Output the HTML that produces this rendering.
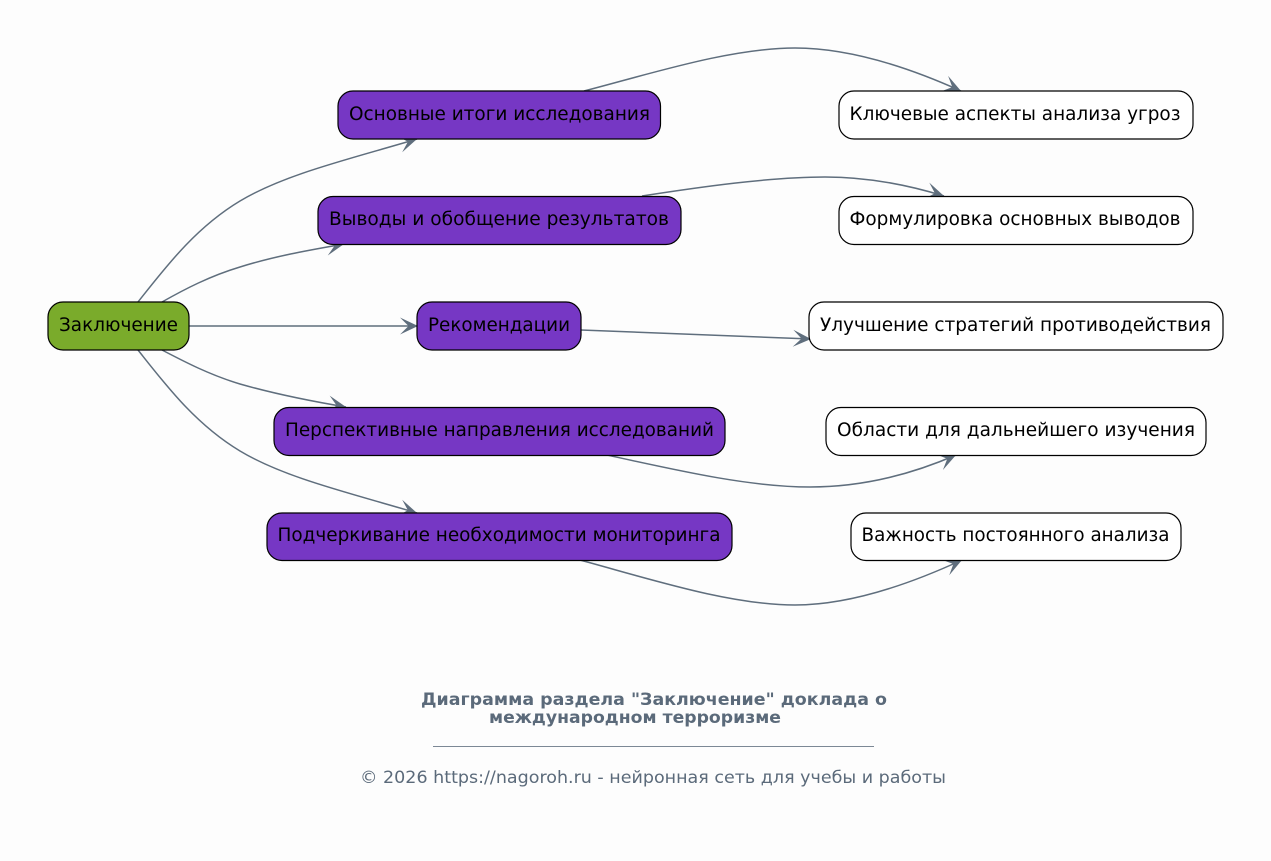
<!DOCTYPE html>
<html lang="ru"><head><meta charset="utf-8"><title>Диаграмма</title>
<style>html,body{margin:0;padding:0;background:#fdfdfd}svg{display:block}
text{font-family:"DejaVu Sans","Liberation Sans",sans-serif}
.n{font-size:18.67px;fill:#000;text-anchor:middle}
.e{fill:none;stroke:#5f6e7d;stroke-width:1.5;marker-end:url(#a)}
.b{stroke:#000;stroke-width:1.2}
</style></head><body>
<svg width="1271" height="861" viewBox="0 0 1271 861" xmlns="http://www.w3.org/2000/svg">
<defs><marker id="a" markerUnits="userSpaceOnUse" markerWidth="20" markerHeight="20" viewBox="-1 -10 20 20" refX="18" refY="0" orient="auto"><path d="M0,-8.500L18,0L0,8.500L8.500,0Z" fill="#5f6e7d"/></marker></defs>
<rect width="1271" height="861" fill="#fdfdfd"/>
<path class="e" d="M138,302C165,268 195,228 240,201C285,174 350,159 417,139"/>
<path class="e" d="M162,302C185,289 210,276 240,267C275,256 310,250 344,244"/>
<path class="e" d="M189,326L418,326"/>
<path class="e" d="M162,350C185,362 210,375 240,384C275,394 310,401 346,407"/>
<path class="e" d="M138,350C165,384 195,424 240,451C285,478 350,493 417,513"/>
<path class="e" d="M584,91C650,74 730,48 795,48C850,48 910,68 961,91"/>
<path class="e" d="M642,196C700,187 770,177 825,177C865,177 905,184 944,196"/>
<path class="e" d="M581,330L811,339"/>
<path class="e" d="M607,455C680,471 750,487 810,487C860,487 910,475 956,455"/>
<path class="e" d="M580,560C650,579 730,605 795,605C850,605 910,584 962,560"/>
<g class="b" fill="#7aab2b"><rect x="48" y="302" width="141" height="48" rx="15"/></g>
<g class="b" fill="#7637c4">
<rect x="338" y="91" width="322.500" height="48" rx="15"/>
<rect x="318" y="196.500" width="363" height="48" rx="15"/>
<rect x="417" y="302" width="164" height="48" rx="15"/>
<rect x="274" y="407.500" width="451" height="48" rx="15"/>
<rect x="267" y="513" width="465" height="47.500" rx="15"/>
</g>
<g class="b" fill="#fff">
<rect x="839" y="91" width="354" height="48" rx="15"/>
<rect x="839" y="196.500" width="354" height="48" rx="15"/>
<rect x="809" y="302" width="414" height="48" rx="15"/>
<rect x="826" y="407.500" width="380" height="48" rx="15"/>
<rect x="851" y="513" width="330" height="47.500" rx="15"/>
</g>
<text class="n" x="118.500" y="331" textLength="119" lengthAdjust="spacingAndGlyphs">Заключение</text>
<text class="n" x="499.500" y="120" textLength="301" lengthAdjust="spacingAndGlyphs">Основные итоги исследования</text>
<text class="n" x="499" y="225" textLength="340" lengthAdjust="spacingAndGlyphs">Выводы и обобщение результатов</text>
<text class="n" x="499" y="331" textLength="142" lengthAdjust="spacingAndGlyphs">Рекомендации</text>
<text class="n" x="499.500" y="436" textLength="429" lengthAdjust="spacingAndGlyphs">Перспективные направления исследований</text>
<text class="n" x="499" y="541" textLength="443" lengthAdjust="spacingAndGlyphs">Подчеркивание необходимости мониторинга</text>
<text class="n" x="1015" y="120" textLength="331" lengthAdjust="spacingAndGlyphs">Ключевые аспекты анализа угроз</text>
<text class="n" x="1015" y="225" textLength="331" lengthAdjust="spacingAndGlyphs">Формулировка основных выводов</text>
<text class="n" x="1015.500" y="331" textLength="391" lengthAdjust="spacingAndGlyphs">Улучшение стратегий противодействия</text>
<text class="n" x="1016" y="436" textLength="358" lengthAdjust="spacingAndGlyphs">Области для дальнейшего изучения</text>
<text class="n" x="1015.500" y="541" textLength="308" lengthAdjust="spacingAndGlyphs">Важность постоянного анализа</text>
<text x="421" y="705" font-size="16.500" font-weight="bold" fill="#5b6a7a" textLength="466" lengthAdjust="spacingAndGlyphs">Диаграмма раздела "Заключение" доклада о</text>
<text x="489" y="723" font-size="16.500" font-weight="bold" fill="#5b6a7a" textLength="292" lengthAdjust="spacingAndGlyphs">международном терроризме</text>
<rect x="433" y="746" width="441" height="1" fill="#7c8895"/>
<text x="360" y="783" font-size="16.500" fill="#5b6a7a" textLength="586" lengthAdjust="spacingAndGlyphs">© 2026 https://nagoroh.ru - нейронная сеть для учебы и работы</text>
</svg>
</body></html>
